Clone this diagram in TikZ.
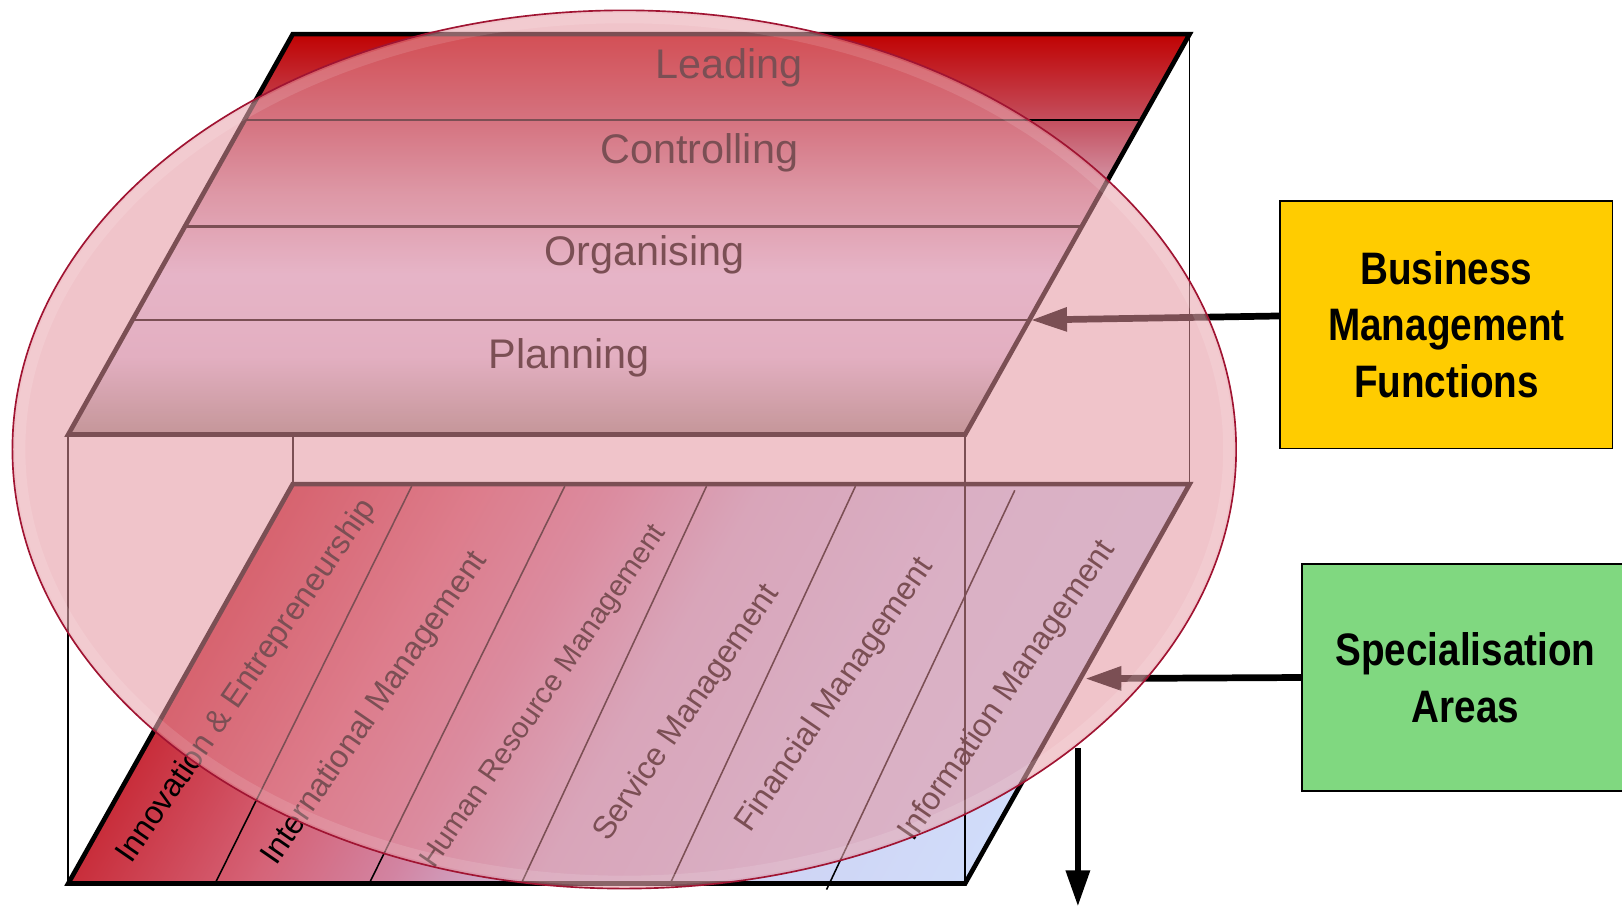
\documentclass[tikz,border=0pt]{standalone}
\usepackage{fontspec}
\setmainfont{Liberation Sans}
\newfontfamily\boxfont{Liberation Sans}[UprightFont={* Bold},FakeStretch=0.85]
\usetikzlibrary{arrows.meta}
\definecolor{topA}{RGB}{192,0,0}
\definecolor{topB}{RGB}{196,80,95}
\definecolor{topC}{RGB}{214,158,176}
\definecolor{topD}{RGB}{234,222,250}
\definecolor{topE}{RGB}{226,210,236}
\definecolor{topF}{RGB}{158,154,146}
\definecolor{botA}{RGB}{200,45,58}
\definecolor{botB}{RGB}{213,98,118}
\definecolor{botC}{RGB}{210,133,163}
\definecolor{botD}{RGB}{205,188,220}
\definecolor{botE}{RGB}{207,212,244}
\definecolor{botF}{RGB}{208,220,250}
\definecolor{ovl}{RGB}{228,146,157}
\definecolor{ovledge}{RGB}{160,20,50}
\definecolor{bmfyellow}{RGB}{255,204,0}
\definecolor{spgreen}{RGB}{128,216,128}
\begin{document}
\begin{tikzpicture}[x=1pt,y=-1pt,
  edge/.style={line width=4.5pt,line join=miter},
  divline/.style={line width=2.2pt},
  thinline/.style={line width=1.5pt},
  functext/.style={font=\fontsize{40}{48}\selectfont,anchor=base,inner sep=0pt},
  areatext/.style={font=\fontsize{31}{37}\selectfont,anchor=base west,inner sep=0pt,rotate=55.5},
  arr/.style={line width=6.5pt,-{Triangle[length=35pt,width=22pt]}},
  boxlbl/.style={draw=black,line width=1.5pt,font=\boxfont\fontsize{44}{54.8}\selectfont,align=center,inner sep=0pt}
]
\useasboundingbox (0,0) rectangle (1568,878);

% ---- lower plane (specialisation areas): gradient across the slanted columns
\begin{scope}[transform canvas={cm={8.67,0,2.17,3.86,(66pt,-854pt)}}]
  \shade[left color=botA,right color=botB] (0pt,0pt) rectangle (20.2pt,100pt);
  \shade[left color=botB,right color=botC] (20pt,0pt) rectangle (36.2pt,100pt);
  \shade[left color=botC,right color=botD] (36pt,0pt) rectangle (52.2pt,100pt);
  \shade[left color=botD,right color=botE] (52pt,0pt) rectangle (78.2pt,100pt);
  \shade[left color=botE,right color=botF] (78pt,0pt) rectangle (100pt,100pt);
\end{scope}
\draw[thinline] (398,470) -- (208,854);
\draw[thinline] (546,470) -- (357,854);
\draw[thinline] (683,470) -- (504,854);
\draw[thinline] (827,470) -- (648,854);
\draw[thinline] (981,474) -- (799,860);
\draw[edge] (283,468) -- (1150,468) -- (933,854) -- (66,854) -- cycle;

% ---- upper plane (management functions)
\begin{scope}
  \clip (283,33) -- (1150,33) -- (933,420) -- (66,420) -- cycle;
  \shade[top color=topA,bottom color=topB] (60,31) rectangle (1160,117.5);
  \shade[top color=topB,bottom color=topC] (60,117) rectangle (1160,185.5);
  \shade[top color=topC,bottom color=topD] (60,185) rectangle (1160,265.5);
  \shade[top color=topD,bottom color=topE] (60,265) rectangle (1160,345.5);
  \shade[top color=topE,bottom color=topF] (60,345) rectangle (1160,423);
\end{scope}
\draw[divline] (236.5,116) -- (1103.5,116);
\draw[divline] (178.7,219) -- (1045.7,219);
\draw[divline] (128,309.4) -- (995,309.4);
\draw[edge] (283,33) -- (1150,33) -- (933,420) -- (66,420) -- cycle;

% ---- box edges
\draw[thinline] (66,420) -- (66,854);
\draw[thinline] (283,420) -- (283,468);
\draw[thinline] (933,420) -- (933,854);
\draw[thinline] (1150,33) -- (1150,468);

% ---- labels
\node[functext] (lead) at (705,75.7) {Leading};
\node[functext] (ctrl) at (676,157.9) {Controlling};
\node[functext] (org) at (623,256.2) {Organising};
\node[functext] (plan) at (550,356) {Planning};

\node[areatext] (ie) at (127,836) {Innovation \& Entrepreneurship};
\node[areatext] (im) at (267,838) {International Management};
\node[areatext,font=\fontsize{28.5}{34}\selectfont] (hr) at (420,841) {Human Resource Management};
\node[areatext] (sm) at (588,815) {Service Management};
\node[areatext] (fm) at (725,806) {Financial Management};
\node[areatext] (inf) at (883,815) {Information Management};

% ---- side boxes
\node[boxlbl,fill=bmfyellow,minimum width=321.5pt,minimum height=239pt] (bmf) at (1398.25,313.85) {Business\\Management\\Functions};
\node[boxlbl,fill=spgreen,minimum width=316pt,minimum height=219pt] (spec) at (1416.6,654.95) {Specialisation\\Areas};

% ---- arrows
\coordinate (bmftip) at (996.5,309.4);
\coordinate (sptip) at (1049,656);
\coordinate (dnA) at (1042,723.5);
\coordinate (dnB) at (1042,876.5);
\draw[arr] ([yshift=8.4pt]bmf.west) -- (bmftip);
\draw[arr] (spec.west) -- (sptip);
\draw[arr] (dnA) -- (dnB);

% ---- translucent ellipse overlay
\path[fill=ovl,fill opacity=0.54] (603.5,434.5) ellipse [x radius=591.5,y radius=424.5];
\draw[white,draw opacity=0.12,line width=10pt] (603.5,434.5) ellipse [x radius=584,y radius=417];
\draw[ovledge,line width=1.6pt] (603.5,434.5) ellipse [x radius=591.5,y radius=424.5];
\end{tikzpicture}
\end{document}
